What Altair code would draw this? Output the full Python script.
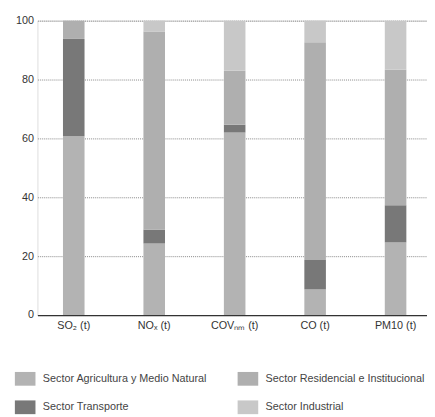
import altair as alt
import pandas as pd

contaminantes = ["SO₂ (t)", "NOₓ (t)", "COVₙₘ (t)", "CO (t)", "PM10 (t)"]
# legend order (Vega fills legend columns top-to-bottom)
sectores = [
    "Sector Agricultura y Medio Natural",
    "Sector Transporte",
    "Sector Residencial e Institucional",
    "Sector Industrial",
]
# stacking order bottom -> top
orden_pila = [
    "Sector Agricultura y Medio Natural",
    "Sector Transporte",
    "Sector Residencial e Institucional",
    "Sector Industrial",
]
agricultura = [60.7, 24.3, 62.0, 8.7, 24.7]
transporte = [33.1, 4.7, 2.7, 10.0, 12.6]
residencial = [6.2, 67.3, 18.3, 74.0, 46.0]
industrial = [0.0, 3.7, 17.0, 7.3, 16.7]
colores = ["#b3b3b3", "#787878", "#afafaf", "#c8c8c8"]

series = {
    "Sector Agricultura y Medio Natural": agricultura,
    "Sector Transporte": transporte,
    "Sector Residencial e Institucional": residencial,
    "Sector Industrial": industrial,
}
rows = []
for s, vals in series.items():
    for c, v in zip(contaminantes, vals):
        rows.append({"contaminante": c, "sector": s, "valor": v, "orden": orden_pila.index(s)})
df = pd.DataFrame(rows)

FONT = "Liberation Sans"

chart = alt.Chart(df).mark_bar().encode(
    x=alt.X(
        "contaminante:N",
        sort=contaminantes,
        scale=alt.Scale(paddingInner=0.732, paddingOuter=0.287, align=0.553),
        axis=alt.Axis(
            title=None, labelAngle=0, ticks=False, domain=True, domainColor="#333333",
            domainWidth=1.3, labelPadding=5, labelFont=FONT, labelFontSize=11,
            labelColor="#333333",
        ),
    ),
    y=alt.Y(
        "valor:Q",
        stack="zero",
        scale=alt.Scale(domain=[0, 100], nice=False),
        axis=alt.Axis(
            title=None, values=[0, 20, 40, 60, 80, 100], ticks=False, domain=False,
            grid=True, gridColor="#888888", gridDash=[1, 1], gridWidth=1,
            labelPadding=4, labelFont=FONT, labelFontSize=11, labelColor="#333333",
        ),
    ),
    color=alt.Color(
        "sector:N",
        scale=alt.Scale(domain=sectores, range=colores),
        legend=alt.Legend(
            title=None, orient="none", legendX=-19.5, legendY=358, columns=2,
            symbolType="M-1.5,-1H1.5V1H-1.5Z", symbolSize=196, symbolStrokeWidth=0,
            symbolOpacity=1, labelOffset=11, rowPadding=15, columnPadding=30,
            labelFont=FONT, labelFontSize=11, labelColor="#444444", labelLimit=300,
            padding=0,
        ),
    ),
    order=alt.Order("orden:Q", sort="ascending"),
).properties(
    width=397,
    height=300,
    autosize=alt.AutoSizeParams(type="none"),
    padding={"left": 30, "top": 9, "right": 0, "bottom": 100},
).configure_view(stroke=None).configure(background="white")

chart.save("out.html", embed_options={"renderer": "svg", "actions": False})
